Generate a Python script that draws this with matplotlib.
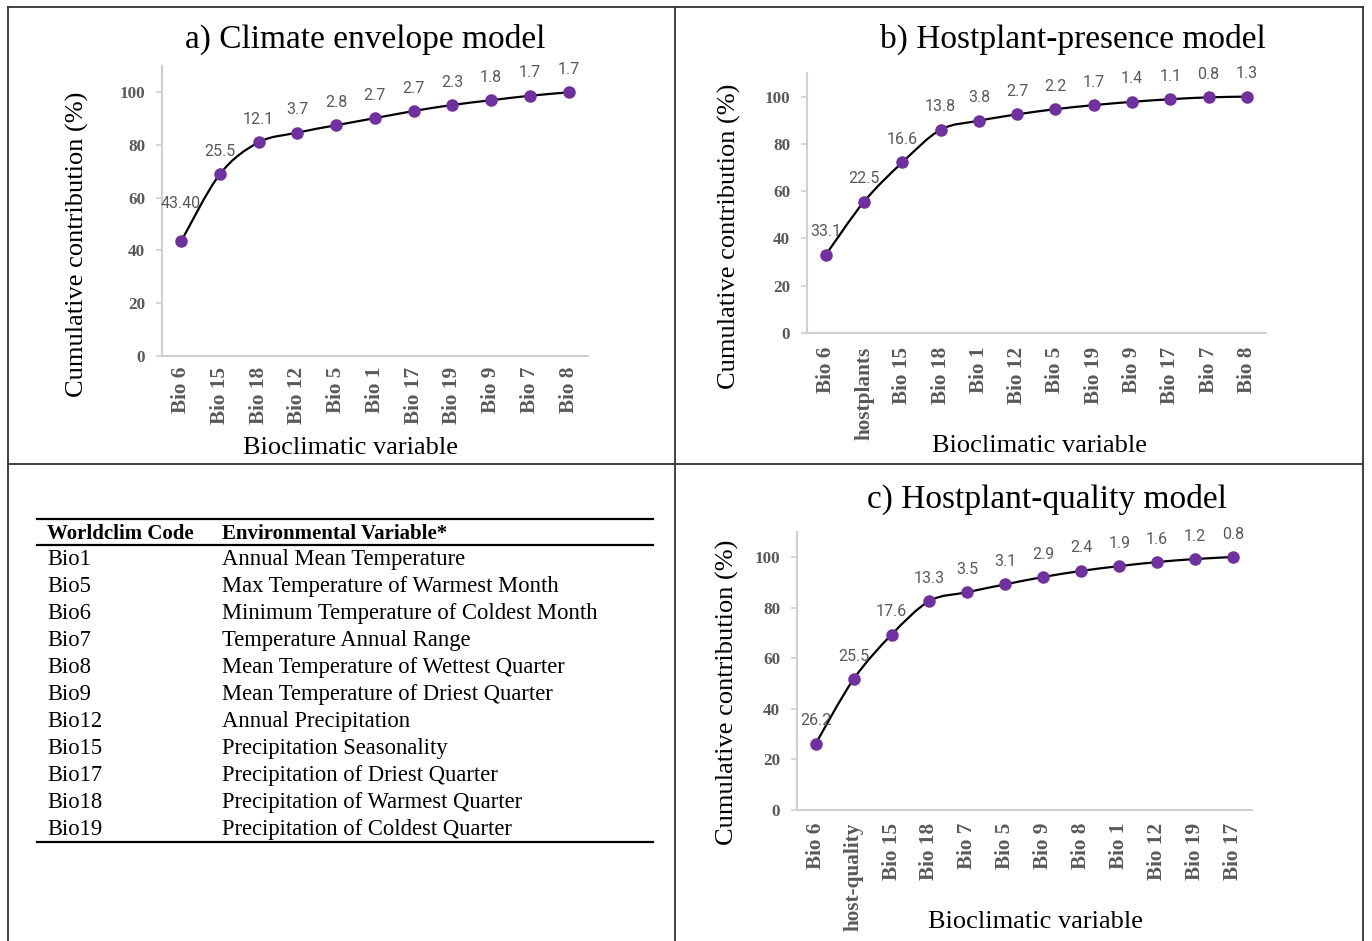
import numpy as np
import matplotlib
matplotlib.use("Agg")
import matplotlib.pyplot as plt
from matplotlib.path import Path
from matplotlib.patches import PathPatch
from matplotlib.lines import Line2D

# ---------------- data ----------------
a_categories = ["Bio 6", "Bio 15", "Bio 18", "Bio 12", "Bio 5", "Bio 1",
                "Bio 17", "Bio 19", "Bio 9", "Bio 7", "Bio 8"]
a_labels = ["43.40", "25.5", "12.1", "3.7", "2.8", "2.7", "2.7", "2.3", "1.8", "1.7", "1.7"]
a_cumulative = [43.4, 68.9, 81.0, 84.7, 87.5, 90.2, 92.9, 95.2, 97.0, 98.7, 100.0]

b_categories = ["Bio 6", "hostplants", "Bio 15", "Bio 18", "Bio 1", "Bio 12",
                "Bio 5", "Bio 19", "Bio 9", "Bio 17", "Bio 7", "Bio 8"]
b_labels = ["33.1", "22.5", "16.6", "13.8", "3.8", "2.7", "2.2", "1.7", "1.4", "1.1", "0.8", "1.3"]
b_cumulative = [33.1, 55.6, 72.2, 86.0, 89.8, 92.5, 94.7, 96.4, 97.8, 98.9, 99.7, 100.0]

c_categories = ["Bio 6", "host-quality", "Bio 15", "Bio 18", "Bio 7", "Bio 5",
                "Bio 9", "Bio 8", "Bio 1", "Bio 12", "Bio 19", "Bio 17"]
c_labels = ["26.2", "25.5", "17.6", "13.3", "3.5", "3.1", "2.9", "2.4", "1.9", "1.6", "1.2", "0.8"]
c_cumulative = [26.2, 51.7, 69.3, 82.6, 86.1, 89.2, 92.1, 94.5, 96.4, 98.0, 99.2, 100.0]

y_ticks = [0, 20, 40, 60, 80, 100]

titles = ["a) Climate envelope model", "b) Hostplant-presence model", "c) Hostplant-quality model"]
y_title = "Cumulative contribution (%)"
x_title = "Bioclimatic variable"

table_header = ["Worldclim Code", "Environmental Variable*"]
table_codes = ["Bio1", "Bio5", "Bio6", "Bio7", "Bio8", "Bio9", "Bio12",
               "Bio15", "Bio17", "Bio18", "Bio19"]
table_variables = ["Annual Mean Temperature",
                   "Max Temperature of Warmest Month",
                   "Minimum Temperature of Coldest Month",
                   "Temperature Annual Range",
                   "Mean Temperature of Wettest Quarter",
                   "Mean Temperature of Driest Quarter",
                   "Annual Precipitation",
                   "Precipitation Seasonality",
                   "Precipitation of Driest Quarter",
                   "Precipitation of Warmest Quarter",
                   "Precipitation of Coldest Quarter"]

# ---------------- style ----------------
W, H, DPI = 1372, 941, 100
SERIF = "Liberation Serif"
LABEL_FONT = "Roboto"
GRAY = "#595959"
AXIS_GRAY = "#CFCFCF"
PURPLE = "#7030A0"


def fx(px):
    return px / W


def fy(py):
    return 1 - py / H


def smooth_path(x, y):
    pts = np.column_stack([x, y]).astype(float)
    n = len(pts)
    verts = [pts[0]]
    codes = [Path.MOVETO]
    for i in range(n - 1):
        p0 = pts[i - 1] if i > 0 else pts[i]
        p1 = pts[i]
        p2 = pts[i + 1]
        p3 = pts[i + 2] if i + 2 < n else pts[i + 1]
        verts += [p1 + (p2 - p0) / 6.0, p2 - (p3 - p1) / 6.0, p2]
        codes += [Path.CURVE4] * 3
    return Path(verts, codes)


fig = plt.figure(figsize=(W / DPI, H / DPI), dpi=DPI)
fig.patch.set_facecolor("white")

# axes rectangles in pixels: left, right, bottom(y=0), top
panels = [
    dict(box=(161.7, 588.0, 355.7, 66.0), cats=a_categories, labels=a_labels, vals=a_cumulative,
         title_xy=(365, 48), ylab_xy=(77, 244), xlab_xy=(351, 454), xpad=8,
         dy={0: 27}),
    dict(box=(806.7, 1266.0, 333.0, 73.0), cats=b_categories, labels=b_labels, vals=b_cumulative,
         title_xy=(1073, 48), ylab_xy=(729, 236), xlab_xy=(1040, 452), xpad=10,
         dy={}),
    dict(box=(796.7, 1252.0, 810.0, 531.7), cats=c_categories, labels=c_labels, vals=c_cumulative,
         title_xy=(1047, 508), ylab_xy=(727, 692), xlab_xy=(1035, 928), xpad=9,
         dy={}),
]

for p, title in zip(panels, titles):
    l, r, b, t = p["box"]
    ax = fig.add_axes([fx(l), fy(b), (r - l) / W, (b - t) / H])
    n = len(p["cats"])
    x = np.arange(n)
    ax.set_xlim(-0.5, n - 0.5)
    ax.set_ylim(0, 110)
    ax.set_yticks(y_ticks)
    ax.set_xticks(x)
    ax.set_xticklabels(p["cats"], rotation=90, fontsize=15.3, fontweight="bold",
                       family=SERIF, color=GRAY, va="top", ha="center")
    ax.set_yticklabels([str(v) for v in y_ticks], fontsize=12.3, fontweight="bold",
                       family=SERIF, color=GRAY)
    for s in ["top", "right"]:
        ax.spines[s].set_visible(False)
    for s in ["left", "bottom"]:
        ax.spines[s].set_color(AXIS_GRAY)
        ax.spines[s].set_linewidth(1.5)
    ax.tick_params(axis="y", length=4.5, width=1.2, color=AXIS_GRAY, pad=7.5)
    ax.tick_params(axis="x", length=0, pad=p["xpad"])
    ax.set_facecolor("none")

    path = smooth_path(x, p["vals"])
    ax.add_patch(PathPatch(path, fill=False, edgecolor="black", lw=1.6, zorder=2))
    ax.plot(x, p["vals"], "o", color=PURPLE, ms=8, zorder=3, clip_on=False)
    for i, (xi, yi, lab) in enumerate(zip(x, p["vals"], p["labels"])):
        ax.annotate(lab, (xi, yi), xytext=(0, p["dy"].get(i, 16.5)), textcoords="offset points",
                    ha="center", va="center", fontsize=11.5, family=LABEL_FONT, color=GRAY,
                    annotation_clip=False)

    fig.text(fx(p["title_xy"][0]), fy(p["title_xy"][1]), title, ha="center", va="baseline",
             fontsize=24, family=SERIF, color="black")
    fig.text(fx(p["ylab_xy"][0]), fy(p["ylab_xy"][1]), y_title, ha="center", va="center",
             rotation=90, fontsize=19, family=SERIF, color="black")
    fig.text(fx(p["xlab_xy"][0]), fy(p["xlab_xy"][1]), x_title, ha="center", va="baseline",
             fontsize=19, family=SERIF, color="black")

# ---------------- table ----------------
col_x = [47, 222]
fig.text(fx(col_x[0]), fy(539), table_header[0], ha="left", va="baseline",
         fontsize=15, fontweight="bold", family=SERIF)
fig.text(fx(col_x[1]), fy(539), table_header[1], ha="left", va="baseline",
         fontsize=15, fontweight="bold", family=SERIF)
for i, (code, var) in enumerate(zip(table_codes, table_variables)):
    yb = 565 + 27 * i
    fig.text(fx(col_x[0]), fy(yb), code, ha="left", va="baseline", fontsize=16.3, family=SERIF)
    fig.text(fx(col_x[1]), fy(yb), var, ha="left", va="baseline", fontsize=16.3, family=SERIF)
for yy, lw in [(519, 1.6), (544.5, 1.6), (841.7, 1.6)]:
    fig.add_artist(Line2D([fx(37), fx(653)], [fy(yy), fy(yy)], color="black", lw=lw,
                          transform=fig.transFigure))

# ---------------- frame lines ----------------
frame = [((8, 7), (1363, 7)), ((8, 7), (8, 941)), ((675, 7), (675, 941)),
         ((1363, 7), (1363, 941)), ((8, 464), (1363, 464))]
for (x0, y0), (x1, y1) in frame:
    fig.add_artist(Line2D([fx(x0), fx(x1)], [fy(y0), fy(y1)], color="#333333", lw=1.3,
                          transform=fig.transFigure))

fig.savefig("out.png", dpi=DPI)
